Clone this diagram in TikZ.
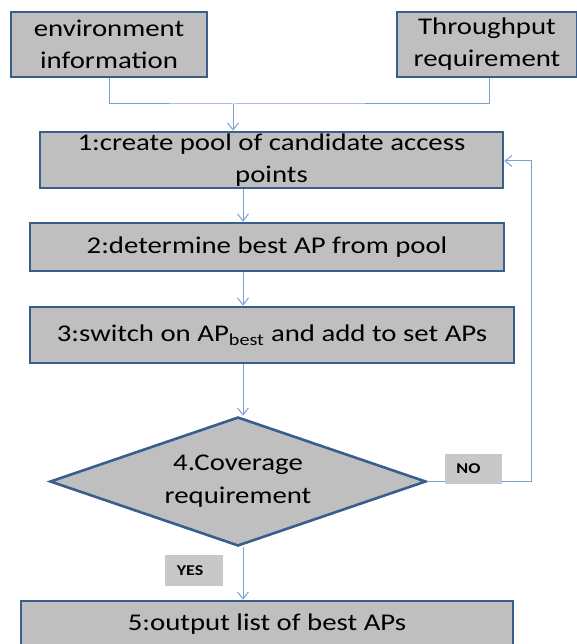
\documentclass[tikz,border=0pt]{standalone}
\usepackage{fontspec}
\setmainfont{Carlito}[FakeStretch=1.2]
\usetikzlibrary{shapes.geometric,arrows.meta}
\definecolor{boxfill}{HTML}{BFBFBF}
\definecolor{boxedge}{HTML}{3A5E8C}
\definecolor{linkblue}{HTML}{7AA0D2}
\definecolor{tagfill}{HTML}{C8C8C8}
\tikzset{
  stepbox/.style={draw=boxedge, line width=2.6pt, fill=boxfill, inner sep=0pt,
    font=\fontsize{24}{32}\selectfont, align=center},
  decision/.style={diamond, draw=boxedge, line width=2.6pt, fill=boxfill, inner sep=0pt,
    minimum width=376pt, minimum height=129pt, aspect=2.9,
    font=\fontsize{24}{33}\selectfont, align=center},
  tag/.style={fill=tagfill, inner sep=0pt, font=\fontsize{15}{17}\bfseries\selectfont},
  link/.style={draw=linkblue, line width=1pt},
  arrow/.style={link, -{Straight Barb[length=7pt,width=11pt,line width=1pt]}}
}
\begin{document}
\begin{tikzpicture}[x=1pt,y=-1pt]
  \clip (0,0) rectangle (577,644);
  % inputs
  \node[stepbox, minimum width=196pt, minimum height=65pt] (env) at (109,44.5)
    {environment\\information};
  \node[stepbox, minimum width=180pt, minimum height=65pt] (thr) at (487,44.5)
    {Throughput\\requirement};
  % process steps
  \node[stepbox, minimum width=463pt, minimum height=56pt] (s1) at (271.5,160)
    {1:create pool of candidate access\\points};
  \node[stepbox, minimum width=474pt, minimum height=48pt] (s2) at (267,247)
    {2:determine best AP from pool};
  \node[stepbox, minimum width=484pt, minimum height=56pt] (s3) at (272,335)
    {3:switch on AP\textsubscript{best} and add to set APs};
  \node[decision] (s4) at (238,481.5) {4.Coverage\\requirement};
  \node[stepbox, minimum width=492pt, minimum height=47pt] (s5) at (267,624.5)
    {5:output list of best APs};
  % routing points
  \coordinate (join) at (233,104);
  \coordinate (axis) at (243,0);
  \coordinate (back) at (531,161);
  % connectors
  \draw[link] (env.south) |- (join) -| (thr.south -| 489,0);
  \draw[arrow] (join) -- (join |- s1.north);
  \draw[arrow] (axis |- s1.south) -- (axis |- s2.north);
  \draw[arrow] (axis |- s2.south) -- (axis |- s3.north);
  \draw[arrow] (axis |- s3.south) -- (axis |- s4.north);
  \draw[arrow] (axis |- s4.south) -- (axis |- s5.north);
  \draw[arrow] (s4.east) -- (s4.east -| back) -- (back) -- (back -| s1.east);
  % branch labels, laid over the connectors
  \node[tag, minimum width=57pt, minimum height=30pt] (no) at (473.5,469)
    {\hspace*{-10pt}NO};
  \node[tag, minimum width=58pt, minimum height=31pt] (yes) at (194,570.5)
    {\hspace*{-8pt}YES};
\end{tikzpicture}
\end{document}
